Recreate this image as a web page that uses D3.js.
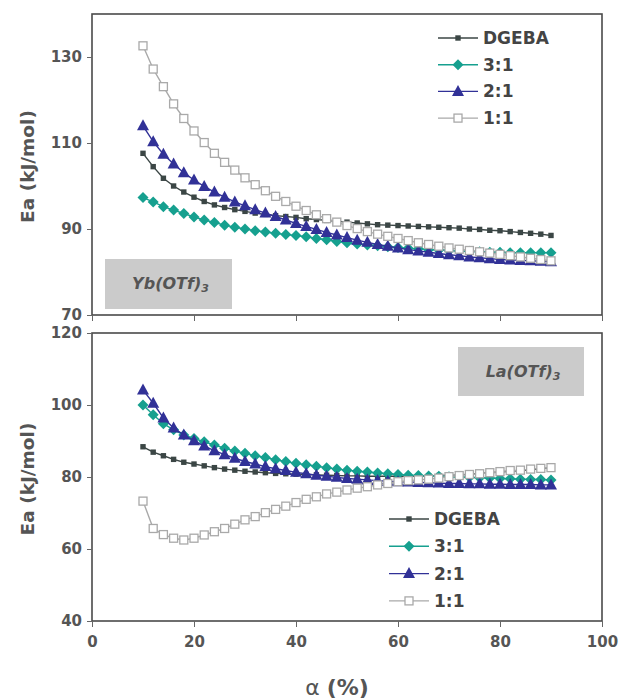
<!DOCTYPE html>
<html><head><meta charset="utf-8">
<script src="https://cdn.jsdelivr.net/npm/d3@7"></script>
<style>body{margin:0;background:#fff}svg{display:block}</style>
</head><body>
<svg id="c" width="624" height="699"></svg>
<script>
const alpha = d3.range(10, 91, 2);
const seriesNames = ["DGEBA", "3:1", "2:1", "1:1"];
const topTicks = [70, 90, 110, 130];
const bottomTicks = [40, 60, 80, 100, 120];
const xTicks = [0, 20, 40, 60, 80, 100];

// Yb(OTf)3 panel
const ybDGEBA = [107.6,104.5,101.8,100.0,98.6,97.4,96.4,95.6,95.0,94.5,94.1,93.7,93.4,93.1,92.9,92.7,92.4,92.2,92.0,91.8,91.6,91.4,91.2,91.0,90.9,90.8,90.7,90.6,90.5,90.4,90.3,90.2,90.0,89.9,89.7,89.6,89.4,89.2,89.0,88.8,88.5];
const yb31 = [97.3,96.3,95.2,94.4,93.6,92.8,92.1,91.5,90.9,90.4,90.0,89.6,89.3,89.0,88.7,88.5,88.2,87.8,87.5,87.1,86.8,86.5,86.3,86.1,85.9,85.7,85.5,85.4,85.2,85.1,85.0,84.9,84.8,84.7,84.6,84.6,84.5,84.5,84.5,84.5,84.5];
const yb21 = [114.0,110.3,107.4,105.1,103.1,101.4,99.9,98.6,97.4,96.3,95.4,94.5,93.7,92.9,92.1,91.3,90.6,89.9,89.2,88.6,88.0,87.4,86.9,86.4,86.0,85.6,85.2,84.9,84.6,84.3,84.0,83.8,83.5,83.3,83.1,82.9,82.8,82.7,82.6,82.5,82.4];
const yb11 = [132.6,127.2,123.1,119.1,115.7,112.8,110.1,107.6,105.5,103.7,101.9,100.3,98.9,97.6,96.4,95.3,94.3,93.3,92.4,91.6,90.8,90.1,89.4,88.8,88.3,87.8,87.3,86.8,86.4,86.0,85.6,85.3,85.0,84.7,84.4,84.1,83.8,83.5,83.2,82.9,82.6];

// La(OTf)3 panel
const laDGEBA = [88.4,86.9,85.9,84.9,84.1,83.6,83.1,82.6,82.2,81.9,81.6,81.4,81.2,81.0,80.9,80.8,80.7,80.6,80.5,80.4,80.3,80.3,80.2,80.2,80.2,80.2,80.2,80.2,80.3,80.4,80.5,80.6,80.8,81.0,81.2,81.4,81.6,81.8,82.0,82.3,82.6];
const la31 = [100.0,97.3,94.8,93.1,91.7,90.7,89.8,88.9,88.0,87.2,86.6,85.9,85.4,84.8,84.3,83.8,83.4,83.0,82.6,82.2,81.9,81.6,81.4,81.1,80.9,80.7,80.5,80.4,80.3,80.2,80.1,80.0,79.9,79.8,79.7,79.6,79.5,79.4,79.3,79.3,79.2];
const la21 = [104.2,100.5,96.4,93.6,91.7,90.1,88.6,87.3,86.2,85.2,84.3,83.6,82.9,82.3,81.8,81.3,80.9,80.5,80.2,79.9,79.6,79.4,79.2,79.0,78.8,78.7,78.6,78.5,78.4,78.3,78.2,78.2,78.1,78.1,78.0,78.0,77.9,77.9,77.9,77.8,77.8];
const la11 = [73.3,65.7,64.0,63.0,62.5,63.0,63.9,64.8,65.7,66.9,68.1,69.0,70.1,71.0,71.9,72.9,73.8,74.5,75.3,75.8,76.4,76.9,77.3,77.8,78.2,78.7,79.0,79.2,79.4,79.7,80.1,80.4,80.7,80.9,81.2,81.5,81.8,81.9,82.2,82.4,82.6];

const styles = {
  "DGEBA": {color:"#3b4645", shape:"sq"},
  "3:1": {color:"#16a08f", shape:"dia"},
  "2:1": {color:"#313197", shape:"tri"},
  "1:1": {color:"#a9a9a9", shape:"open"}
};

const svg = d3.select("#c");
svg.append("rect").attr("width",624).attr("height",699).attr("fill","#fff");
const FONT = "'DejaVu Sans', Verdana, sans-serif";
const x = d3.scaleLinear().domain([0,100]).range([92,602]);

function marker(g, shape, color, cx, cy) {
  if (shape === "sq") {
    g.append("rect").attr("x",cx-2.7).attr("y",cy-2.7).attr("width",5.4).attr("height",5.4).attr("fill",color);
  } else if (shape === "dia") {
    g.append("path").attr("d",`M${cx},${cy-5.5}L${cx+5.5},${cy}L${cx},${cy+5.5}L${cx-5.5},${cy}Z`).attr("fill",color);
  } else if (shape === "tri") {
    g.append("path").attr("d",`M${cx},${cy-6.5}L${cx+6},${cy+4.5}L${cx-6},${cy+4.5}Z`).attr("fill",color);
  } else {
    g.append("rect").attr("x",cx-4).attr("y",cy-4).attr("width",8).attr("height",8).attr("fill","#fff").attr("stroke",color).attr("stroke-width",1.3);
  }
}

function panel(opts) {
  const y = d3.scaleLinear().domain(opts.domain).range([opts.bottom, opts.top]);
  const g = svg.append("g");
  // label box
  g.append("rect").attr("x",opts.box[0]).attr("y",opts.box[1]).attr("width",opts.box[2]).attr("height",opts.box[3]).attr("fill","#cbcbcb");
  const t = g.append("text").attr("x",opts.box[0]+opts.box[2]/2+2).attr("y",opts.box[1]+opts.box[3]/2+5)
    .attr("text-anchor","middle").attr("font-family",FONT).attr("font-weight","bold").attr("font-style","italic")
    .attr("font-size",16).attr("fill","#555");
  t.append("tspan").text(opts.label);
  t.append("tspan").attr("font-size",11).attr("dy",3).text("3");

  // lines and markers
  opts.data.forEach((vals, i) => {
    const st = styles[seriesNames[i]];
    const pts = alpha.map((a, k) => [a, vals[k]]);
    g.append("path").datum(pts).attr("fill","none").attr("stroke",st.color).attr("stroke-width",1.4)
      .attr("d", d3.line().x(d=>x(d[0])).y(d=>y(d[1])));
    const mg = g.append("g");
    pts.forEach(p => marker(mg, st.shape, st.color, x(p[0]), y(p[1])));
  });

  // frame
  g.append("rect").attr("x",x(0)).attr("y",opts.top).attr("width",x(100)-x(0)).attr("height",opts.bottom-opts.top)
    .attr("fill","none").attr("stroke","#4a4a4a").attr("stroke-width",1.6);

  // y axis
  const ya = g.append("g").attr("transform",`translate(${x(0)},0)`)
    .call(d3.axisLeft(y).tickValues(opts.ticks).tickSize(5).tickPadding(5));
  ya.select(".domain").remove();
  ya.selectAll(".tick line").attr("stroke","#666");
  ya.selectAll(".tick text").attr("font-family",FONT).attr("font-weight","bold").attr("font-size",15).attr("fill","#555");

  // x axis
  const xa = g.append("g").attr("transform",`translate(0,${opts.bottom})`)
    .call(d3.axisBottom(x).tickValues(xTicks).tickSize(6).tickPadding(9).tickFormat(opts.xLabels ? d3.format("d") : ""));
  xa.select(".domain").remove();
  xa.selectAll(".tick line").attr("stroke","#666");
  xa.selectAll(".tick text").attr("font-family",FONT).attr("font-weight","bold").attr("font-size",15).attr("fill","#555");

  // y title
  svg.append("text").attr("transform",`translate(34,${(opts.top+opts.bottom)/2 + 2}) rotate(-90)`)
    .attr("text-anchor","middle").attr("font-family",FONT).attr("font-weight","bold").attr("font-size",18.5).attr("fill","#555")
    .text("Ea (kJ/mol)");

  // legend
  const lg = g.append("g");
  seriesNames.forEach((n, i) => {
    const st = styles[n];
    const ly = opts.leg[1] + i*opts.leg[2];
    lg.append("line").attr("x1",opts.leg[0]).attr("x2",opts.leg[0]+40).attr("y1",ly).attr("y2",ly).attr("stroke",st.color).attr("stroke-width",1.4);
    marker(lg, st.shape, st.color, opts.leg[0]+20, ly);
    lg.append("text").attr("x",opts.leg[0]+45).attr("y",ly+6).attr("font-family",FONT).attr("font-weight","bold")
      .attr("font-size",17).attr("fill","#444").text(n);
  });
}

panel({domain:[70,140], top:14, bottom:315, ticks:topTicks, xLabels:false,
  data:[ybDGEBA, yb31, yb21, yb11], label:"Yb(OTf)", box:[105,259,127,50], leg:[438,38,26.7]});
panel({domain:[40,120], top:333, bottom:621, ticks:bottomTicks, xLabels:true,
  data:[laDGEBA, la31, la21, la11], label:"La(OTf)", box:[458,347,126,49], leg:[389,519,27.3]});

const xt = svg.append("text").attr("x",337).attr("y",695).attr("text-anchor","middle").attr("font-family",FONT).attr("fill","#555").attr("font-size",22);
xt.append("tspan").text("α ");
xt.append("tspan").attr("font-weight","bold").text("(%)");
</script>
</body></html>
